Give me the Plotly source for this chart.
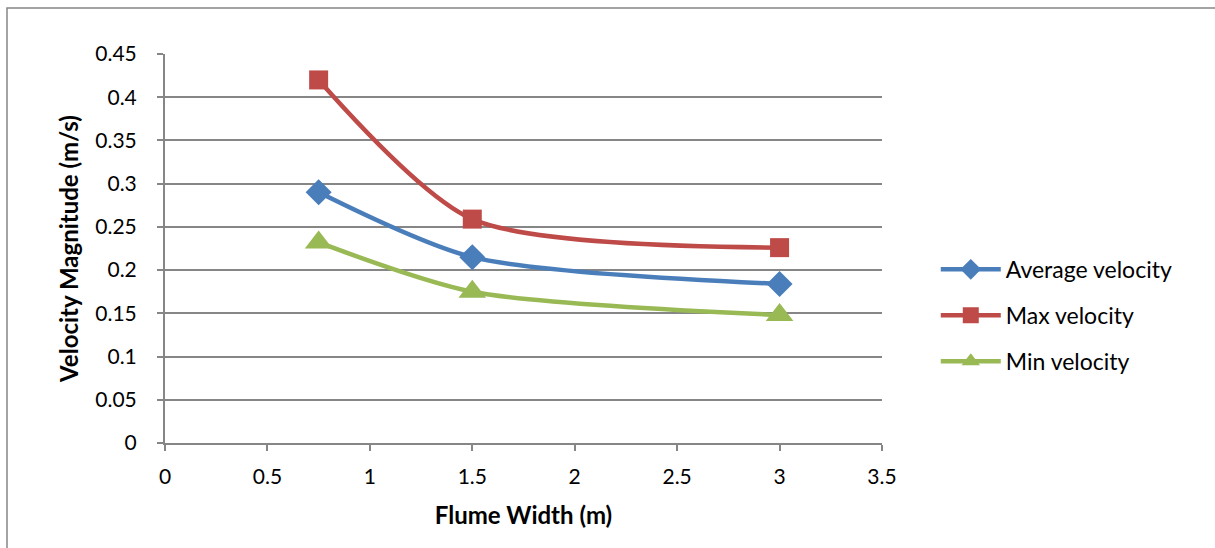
import plotly.graph_objects as go

widths = [0.75, 1.5, 3]
avg_vel = [0.29, 0.215, 0.184]
max_vel = [0.42, 0.259, 0.226]
min_vel = [0.232, 0.175, 0.148]

FONT = "Lato"
fig = go.Figure()
series = [
    ("Average velocity", avg_vel, "#4A7EBB", "diamond", 20),
    ("Max velocity", max_vel, "#BE4B48", "square", 19),
    ("Min velocity", min_vel, "#98B954", "triangle-up", 24),
]
for name, ys, col, sym, sz in series:
    fig.add_trace(go.Scatter(
        x=widths, y=ys, name=name, mode="lines+markers", legendgroup=name,
        line=dict(color=col, width=4.5, shape="spline", smoothing=0.75),
        marker=dict(symbol=sym, size=sz, color=col),
    ))

L, R, T, B = 165, 333, 54, 105
W, H = 1215, 548
pw, ph = W - L - R, H - T - B

fig.update_layout(
    width=W, height=H,
    margin=dict(l=L, r=R, t=T, b=B),
    paper_bgcolor="white", plot_bgcolor="white",
    font=dict(family=FONT, size=21, color="black"),
    showlegend=True,
    legend=dict(x=1.075, y=0.328, xanchor="left", yanchor="middle",
                font=dict(size=23), itemwidth=60, tracegroupgap=13,
                traceorder="grouped", bgcolor="rgba(0,0,0,0)"),
    xaxis=dict(range=[0, 3.5], dtick=0.5, showgrid=False, zeroline=False,
               showline=True, linecolor="#868686", linewidth=2,
               ticks="outside", ticklen=6, tickcolor="#868686", tickwidth=2,
               ticklabelstandoff=8,
               tickfont=dict(size=21), fixedrange=True,
               title=dict(text="<b>Flume Width (m)</b>", font=dict(size=24), standoff=20)),
    yaxis=dict(range=[0, 0.45], dtick=0.05, showgrid=True, gridcolor="#868686", gridwidth=2,
               zeroline=False, showline=True, linecolor="#868686", linewidth=2,
               ticks="outside", ticklen=6, tickcolor="#868686", tickwidth=2,
               ticklabelstandoff=16,
               tickfont=dict(size=21), fixedrange=True, tickformat="~g",
               title=dict(text="<b>Velocity Magnitude (m/s)</b>", font=dict(size=24), standoff=10)),
)

fig.add_shape(type="rect", xref="paper", yref="paper",
              x0=(7 - L) / pw, x1=(1220 - L) / pw,
              y0=(H - B - 555) / ph, y1=(H - B - 8) / ph,
              line=dict(color="#868686", width=1.5), layer="below")

fig.write_html("out.html")
